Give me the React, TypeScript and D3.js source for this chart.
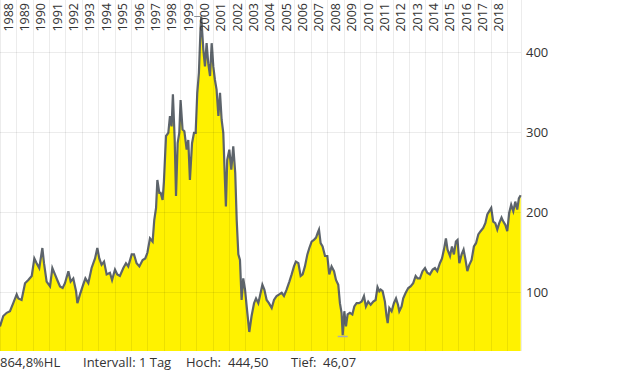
import React from 'react'
import { scaleLinear, area, line, curveLinear, range } from 'd3'

// Data (decimal year, index level)
const years = [
  1988.00, 1988.20, 1988.41, 1988.61, 1988.81, 1989.02, 1989.12, 1989.32, 1989.53, 1989.73, 1989.94,
  1990.10, 1990.24, 1990.40, 1990.59, 1990.69, 1990.85, 1991.06, 1991.20, 1991.36, 1991.50, 1991.67,
  1991.83, 1991.97, 1992.18, 1992.32, 1992.48, 1992.65, 1992.73, 1992.89, 1993.05, 1993.22, 1993.40,
  1993.60, 1993.81, 1993.95, 1994.07, 1994.21, 1994.36, 1994.52, 1994.72, 1994.85, 1995.03, 1995.17,
  1995.33, 1995.54, 1995.70, 1995.84, 1996.05, 1996.19, 1996.35, 1996.52, 1996.72, 1996.88, 1997.01,
  1997.17, 1997.33, 1997.43, 1997.54, 1997.62, 1997.74, 1997.82, 1997.94, 1998.02, 1998.15, 1998.29,
  1998.39, 1998.49, 1998.57, 1998.68, 1998.76, 1998.86, 1998.96, 1999.04, 1999.16, 1999.27, 1999.41,
  1999.51, 1999.61, 1999.74, 1999.86, 1999.96, 2000.06, 2000.16, 2000.25, 2000.30, 2000.43, 2000.53,
  2000.63, 2000.73, 2000.84, 2000.94, 2001.04, 2001.14, 2001.24, 2001.35, 2001.45, 2001.55, 2001.65,
  2001.75, 2001.81, 2001.89, 2002.02, 2002.14, 2002.26, 2002.38, 2002.47, 2002.57, 2002.67, 2002.77,
  2002.87, 2002.98, 2003.12, 2003.24, 2003.38, 2003.53, 2003.65, 2003.79, 2003.89, 2004.04, 2004.16,
  2004.30, 2004.44, 2004.61, 2004.75, 2004.91, 2005.07, 2005.22, 2005.36, 2005.52, 2005.69, 2005.83,
  2005.97, 2006.09, 2006.24, 2006.38, 2006.50, 2006.64, 2006.79, 2006.91, 2007.05, 2007.19, 2007.32,
  2007.42, 2007.50, 2007.60, 2007.72, 2007.87, 2008.01, 2008.13, 2008.27, 2008.42, 2008.54, 2008.68,
  2008.78, 2008.88, 2008.95, 2009.05, 2009.15, 2009.25, 2009.39, 2009.54, 2009.66, 2009.80, 2009.94,
  2010.11, 2010.25, 2010.37, 2010.51, 2010.66, 2010.82, 2010.96, 2011.08, 2011.19, 2011.27, 2011.39,
  2011.53, 2011.63, 2011.70, 2011.80, 2011.94, 2012.08, 2012.21, 2012.33, 2012.41, 2012.55, 2012.65,
  2012.80, 2012.96, 2013.10, 2013.26, 2013.41, 2013.53, 2013.67, 2013.83, 2013.98, 2014.12, 2014.28,
  2014.45, 2014.59, 2014.73, 2014.89, 2015.02, 2015.14, 2015.26, 2015.36, 2015.51, 2015.63, 2015.75,
  2015.87, 2015.97, 2016.08, 2016.22, 2016.34, 2016.46, 2016.57, 2016.69, 2016.83, 2016.97, 2017.10,
  2017.24, 2017.38, 2017.54, 2017.67, 2017.79, 2017.91, 2018.03, 2018.15, 2018.28, 2018.40, 2018.52,
  2018.66, 2018.77, 2018.89, 2019.01, 2019.13, 2019.25, 2019.38, 2019.50, 2019.62, 2019.72, 2019.83,
]
const prices = [
  57, 70, 74, 76, 86, 97, 92, 90, 111, 115, 120,
  142, 136, 130, 155, 136, 113, 107, 130, 122, 115, 107,
  105, 111, 126, 113, 117, 101, 86, 97, 107, 117, 111,
  130, 142, 155, 142, 134, 138, 122, 124, 115, 128, 122,
  120, 130, 136, 132, 147, 147, 136, 132, 140, 142, 149,
  167, 163, 190, 205, 240, 224, 224, 215, 238, 295, 299,
  320, 307, 347, 290, 220, 286, 299, 340, 303, 301, 278,
  290, 240, 286, 299, 299, 349, 374, 424, 444.5, 403, 382,
  411, 386, 370, 411, 382, 365, 353, 320, 349, 315, 299,
  240, 207, 265, 278, 253, 282, 249, 190, 147, 140, 90,
  117, 103, 74, 50, 70, 86, 92, 86, 95, 109, 103,
  90, 86, 80, 90, 95, 97, 99, 95, 103, 113, 122,
  132, 138, 136, 120, 122, 132, 147, 155, 163, 165, 168,
  174, 178, 161, 157, 145, 145, 122, 132, 126, 115, 109,
  86, 74, 46.07, 76, 57, 72, 74, 72, 82, 86, 86,
  88, 95, 82, 88, 84, 88, 90, 106, 101, 103, 101,
  88, 70, 61, 80, 76, 86, 92, 84, 76, 82, 92,
  99, 105, 107, 111, 120, 117, 117, 126, 130, 124, 122,
  128, 130, 126, 136, 142, 153, 167, 153, 145, 157, 147,
  163, 165, 136, 147, 153, 140, 126, 134, 140, 157, 161,
  172, 176, 180, 186, 197, 201, 205, 188, 186, 178, 186,
  193, 188, 184, 176, 199, 209, 201, 213, 203, 217, 221,
]
const yTicks = [100, 200, 300, 400]
const yearLabels = range(1988, 2019)
const infoTexts = [
  { label: '864,8%HL', x: 0 },
  { label: 'Intervall: 1 Tag', x: 83 },
  { label: 'Hoch:', x: 186 },
  { label: '444,50', x: 228 },
  { label: 'Tief:', x: 291 },
  { label: '46,07', x: 323 },
]

const width = 620
const height = 372
const plotRight = 521
const plotBottom = 351

const App = () => {
  const xScale = scaleLinear().domain([1988, 2019.85]).range([0, plotRight])
  const yScale = scaleLinear().domain([400, 100]).range([52, 292])

  const points = years.map((yr, i) => [yr, prices[i]] as [number, number])

  const fillArea = area<[number, number]>()
    .x(d => xScale(d[0]))
    .y0(plotBottom)
    .y1(d => yScale(d[1]))
    .curve(curveLinear)
  const priceLine = line<[number, number]>()
    .x(d => xScale(d[0]))
    .y(d => yScale(d[1]))

  // high/low markers
  const hiIdx = prices.indexOf(Math.max(...prices))
  const loIdx = prices.indexOf(Math.min(...prices))
  const hiX = xScale(years[hiIdx])
  const loX = xScale(years[loIdx])

  const font = '"Open Sans", sans-serif'

  return (
    <svg width={width} height={height} style={{ position: 'absolute', left: 0, top: 0 }}>
      <rect x={0} y={0} width={width} height={height} fill="#fff" />
      <path d={fillArea(points) || ''} fill="#fff200" />
      <path d={priceLine(points) || ''} fill="none" stroke="#5d646b" strokeWidth={2.2} strokeLinejoin="miter" />
      {/* grid */}
      {yTicks.map(t => (
        <line key={'h' + t} x1={0} x2={plotRight} y1={Math.round(yScale(t)) + 0.5} y2={Math.round(yScale(t)) + 0.5}
          stroke="rgba(0,0,0,0.075)" />
      ))}
      {yearLabels.concat([2019]).map(yr => (
        <line key={'v' + yr} x1={Math.round(xScale(yr)) + 0.5} x2={Math.round(xScale(yr)) + 0.5} y1={0} y2={plotBottom}
          stroke="rgba(0,0,0,0.075)" />
      ))}
      <line x1={plotRight + 0.5} x2={plotRight + 0.5} y1={0} y2={plotBottom} stroke="rgba(0,0,0,0.075)" />
      {/* hi / lo markers */}
      <line x1={hiX - 7} x2={hiX} y1={Math.round(yScale(prices[hiIdx])) + 0.5} y2={Math.round(yScale(prices[hiIdx])) + 0.5}
        stroke="#8a8f94" />
      <line x1={loX - 5} x2={loX + 5} y1={Math.round(yScale(prices[loIdx])) + 1.5} y2={Math.round(yScale(prices[loIdx])) + 1.5}
        stroke="#a9adb1" strokeWidth={1.5} />
      {/* year labels */}
      {yearLabels.map(yr => {
        const cx = (xScale(yr) + xScale(yr + 1)) / 2
        return (
          <text key={'y' + yr} transform={`translate(${cx + 4.5},3) rotate(-90)`} textAnchor="end"
            fontFamily={font} fontSize={12.5} fill="#333">{yr}</text>
        )
      })}
      {/* right axis */}
      {yTicks.map(t => (
        <text key={'t' + t} x={526} y={yScale(t)} dy="0.35em" fontFamily={font} fontSize={13} fill="#333">{t}</text>
      ))}
      {/* footer */}
      {infoTexts.map(d => (
        <text key={d.label} x={d.x} y={367} fontFamily={font} fontSize={13} fill="#333">
          {d.label}
        </text>
      ))}
    </svg>
  )
}

export default App
